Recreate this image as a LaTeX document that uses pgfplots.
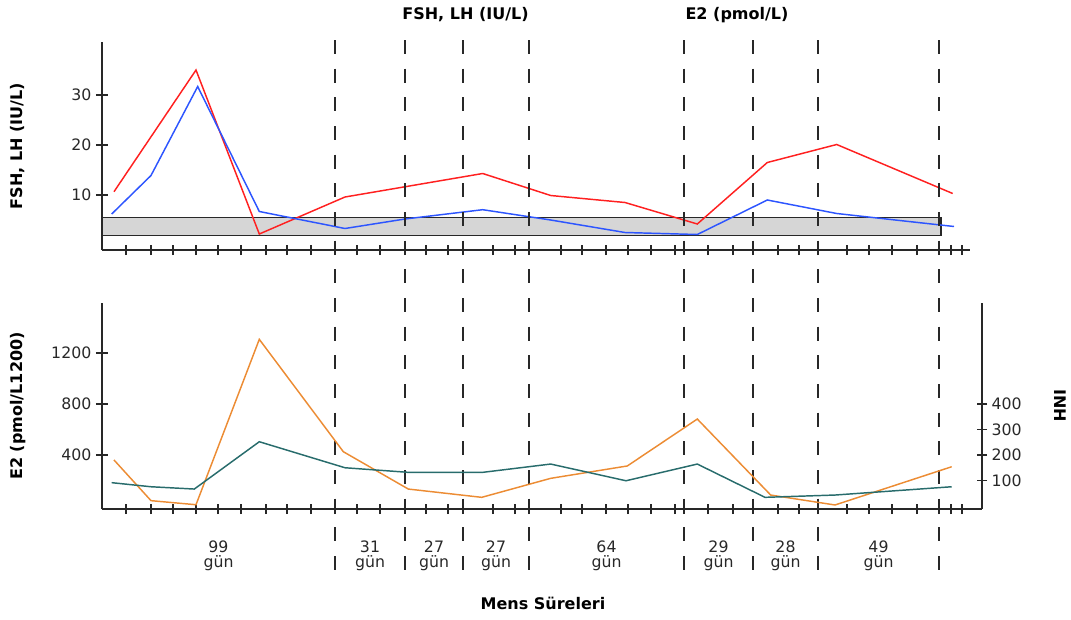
\documentclass[border=0pt]{standalone}
\usepackage{fontspec}
\setmainfont{DejaVu Sans}
\usepackage{pgfplots}
\pgfplotsset{compat=1.18}
\definecolor{cred}{RGB}{255,32,32}
\definecolor{cblue}{RGB}{45,85,255}
\definecolor{corange}{RGB}{236,140,52}
\definecolor{cteal}{RGB}{40,108,108}
\definecolor{caxis}{RGB}{40,40,40}
\definecolor{cband}{RGB}{214,214,214}
\newcommand{\tfont}{\fontsize{11.8}{11.6}\selectfont}
\newcommand{\lfont}{\bfseries\fontsize{12}{13}\selectfont}
\begin{document}
\begin{tikzpicture}
\pgfplotsset{
  base/.style={
    scale only axis, anchor=south west, clip=false,
    tick align=outside,
    /pgf/number format/assume math mode=true,
    /pgf/number format/1000 sep={},
    ticklabel style={font=\tfont, text=caxis},
  },
  lines/.style={
    axis line style={-, line width=1.1pt, caxis},
    tick style={line width=1.1pt, caxis},
  },
  mticks/.style={
    xtick=\empty,
    extra x ticks={126,151,173,196,218,241,266,287,311,335,357,380,405,426,448,463,493,515,529,561,582,606,628,651,675,684,708,733,753,778,799,818,847,869,892,917,939,951,962},
    extra x tick labels={},
    extra x tick style={major tick length=7.5pt, tick style={line width=1.1pt, caxis}},
  },
}
% ---------------- top axis ----------------
\begin{axis}[base, mticks,
  at={(76.5pt,276.75pt)}, width=651pt, height=156pt,
  xmin=102, xmax=970, ymin=-1, ymax=40.6,
  axis lines=left, lines,
  ytick={10,20,30}, major tick length=9pt,
  ylabel={FSH, LH (IU/L)},
  every axis y label/.style={at={(axis description cs:-0.0968,0.5)}, anchor=center, rotate=90, font=\lfont, text=black},
]
\addplot[fill=cband, draw=caxis, line width=1.1pt] coordinates {(102,1.87) (941,1.87) (941,5.46) (102,5.46) (102,1.87)};
\addplot[cred, line width=1.1pt] coordinates {(114,10.66) (196,35) (259.3,2.2) (345,9.6) (482.7,14.3) (550.7,9.9) (625,8.5) (697.3,4.2) (767.3,16.5) (836.7,20.1) (952.7,10.3)};
\addplot[cblue, line width=1.1pt] coordinates {(111.7,6.2) (151,13.9) (197.7,31.7) (259.3,6.7) (345,3.3) (405,5.2) (482.7,7.06) (550.7,5.0) (625,2.5) (697.3,2.1) (767.3,9.0) (836.7,6.3) (954,3.7)};
\pgfplotsinvokeforeach{335,405,463,529,684,753,818,939}{
  \draw[caxis, line width=1.1pt, dash pattern=on 10.5pt off 11pt] (axis cs:#1,41) -- (axis cs:#1,-65.2);
}
\node[font=\lfont] at (axis cs:465.5,46) {FSH, LH (IU/L)};
\node[font=\lfont] at (axis cs:737,46) {E2 (pmol/L)};
\end{axis}
% ---------------- bottom axis (left) ----------------
\begin{axis}[base, mticks,
  at={(76.5pt,82.5pt)}, width=660pt, height=154.5pt,
  xmin=102, xmax=982, ymin=-23.5, ymax=1592,
  axis lines=left, lines,
  ytick={400,800,1200}, major tick length=9pt,
  ylabel={E2 (pmol/L1200)},
  every axis y label/.style={at={(axis description cs:-0.0955,0.5)}, anchor=center, rotate=90, font=\lfont, text=black},
]
\addplot[corange, line width=1.1pt] coordinates {(114,361) (151,42) (196,10) (259.3,1307) (343.3,426) (408.3,133) (481.7,68) (550.7,217) (627.3,314) (697.3,682) (770.7,86) (835,8) (951.7,308)};
\node[font=\tfont, text=caxis, align=center] at (axis cs:218.5,-390) {99\\gün};
\node[font=\tfont, text=caxis, align=center] at (axis cs:370,-390) {31\\gün};
\node[font=\tfont, text=caxis, align=center] at (axis cs:434,-390) {27\\gün};
\node[font=\tfont, text=caxis, align=center] at (axis cs:496,-390) {27\\gün};
\node[font=\tfont, text=caxis, align=center] at (axis cs:606.5,-390) {64\\gün};
\node[font=\tfont, text=caxis, align=center] at (axis cs:718.5,-390) {29\\gün};
\node[font=\tfont, text=caxis, align=center] at (axis cs:785.5,-390) {28\\gün};
\node[font=\tfont, text=caxis, align=center] at (axis cs:878.5,-390) {49\\gün};
\node[font=\lfont] at (axis cs:543,-761) {Mens Süreleri};
\end{axis}
% ---------------- bottom axis (right) ----------------
\begin{axis}[base,
  at={(76.5pt,82.5pt)}, width=660pt, height=154.5pt,
  xmin=102, xmax=982, ymin=-11.75, ymax=796,
  axis y line=right, axis x line=none, lines,
  ytick={100,200,300,400}, major tick length=7.5pt,
  ylabel={INH},
  every axis y label/.style={at={(axis description cs:1.0886,0.5)}, anchor=center, rotate=-90, font=\lfont, text=black},
]
\addplot[cteal, line width=1.1pt] coordinates {(111.7,91.5) (151,75.5) (194.3,66.5) (259.3,252) (345,150) (408.3,132) (482.7,132) (550.7,164.5) (626,99) (697.3,164.5) (765,34) (835,43) (951.7,75.5)};
\end{axis}
\pgfresetboundingbox
\path[use as bounding box] (0,0) rectangle (803.25pt,464.25pt);
\end{tikzpicture}
\end{document}
